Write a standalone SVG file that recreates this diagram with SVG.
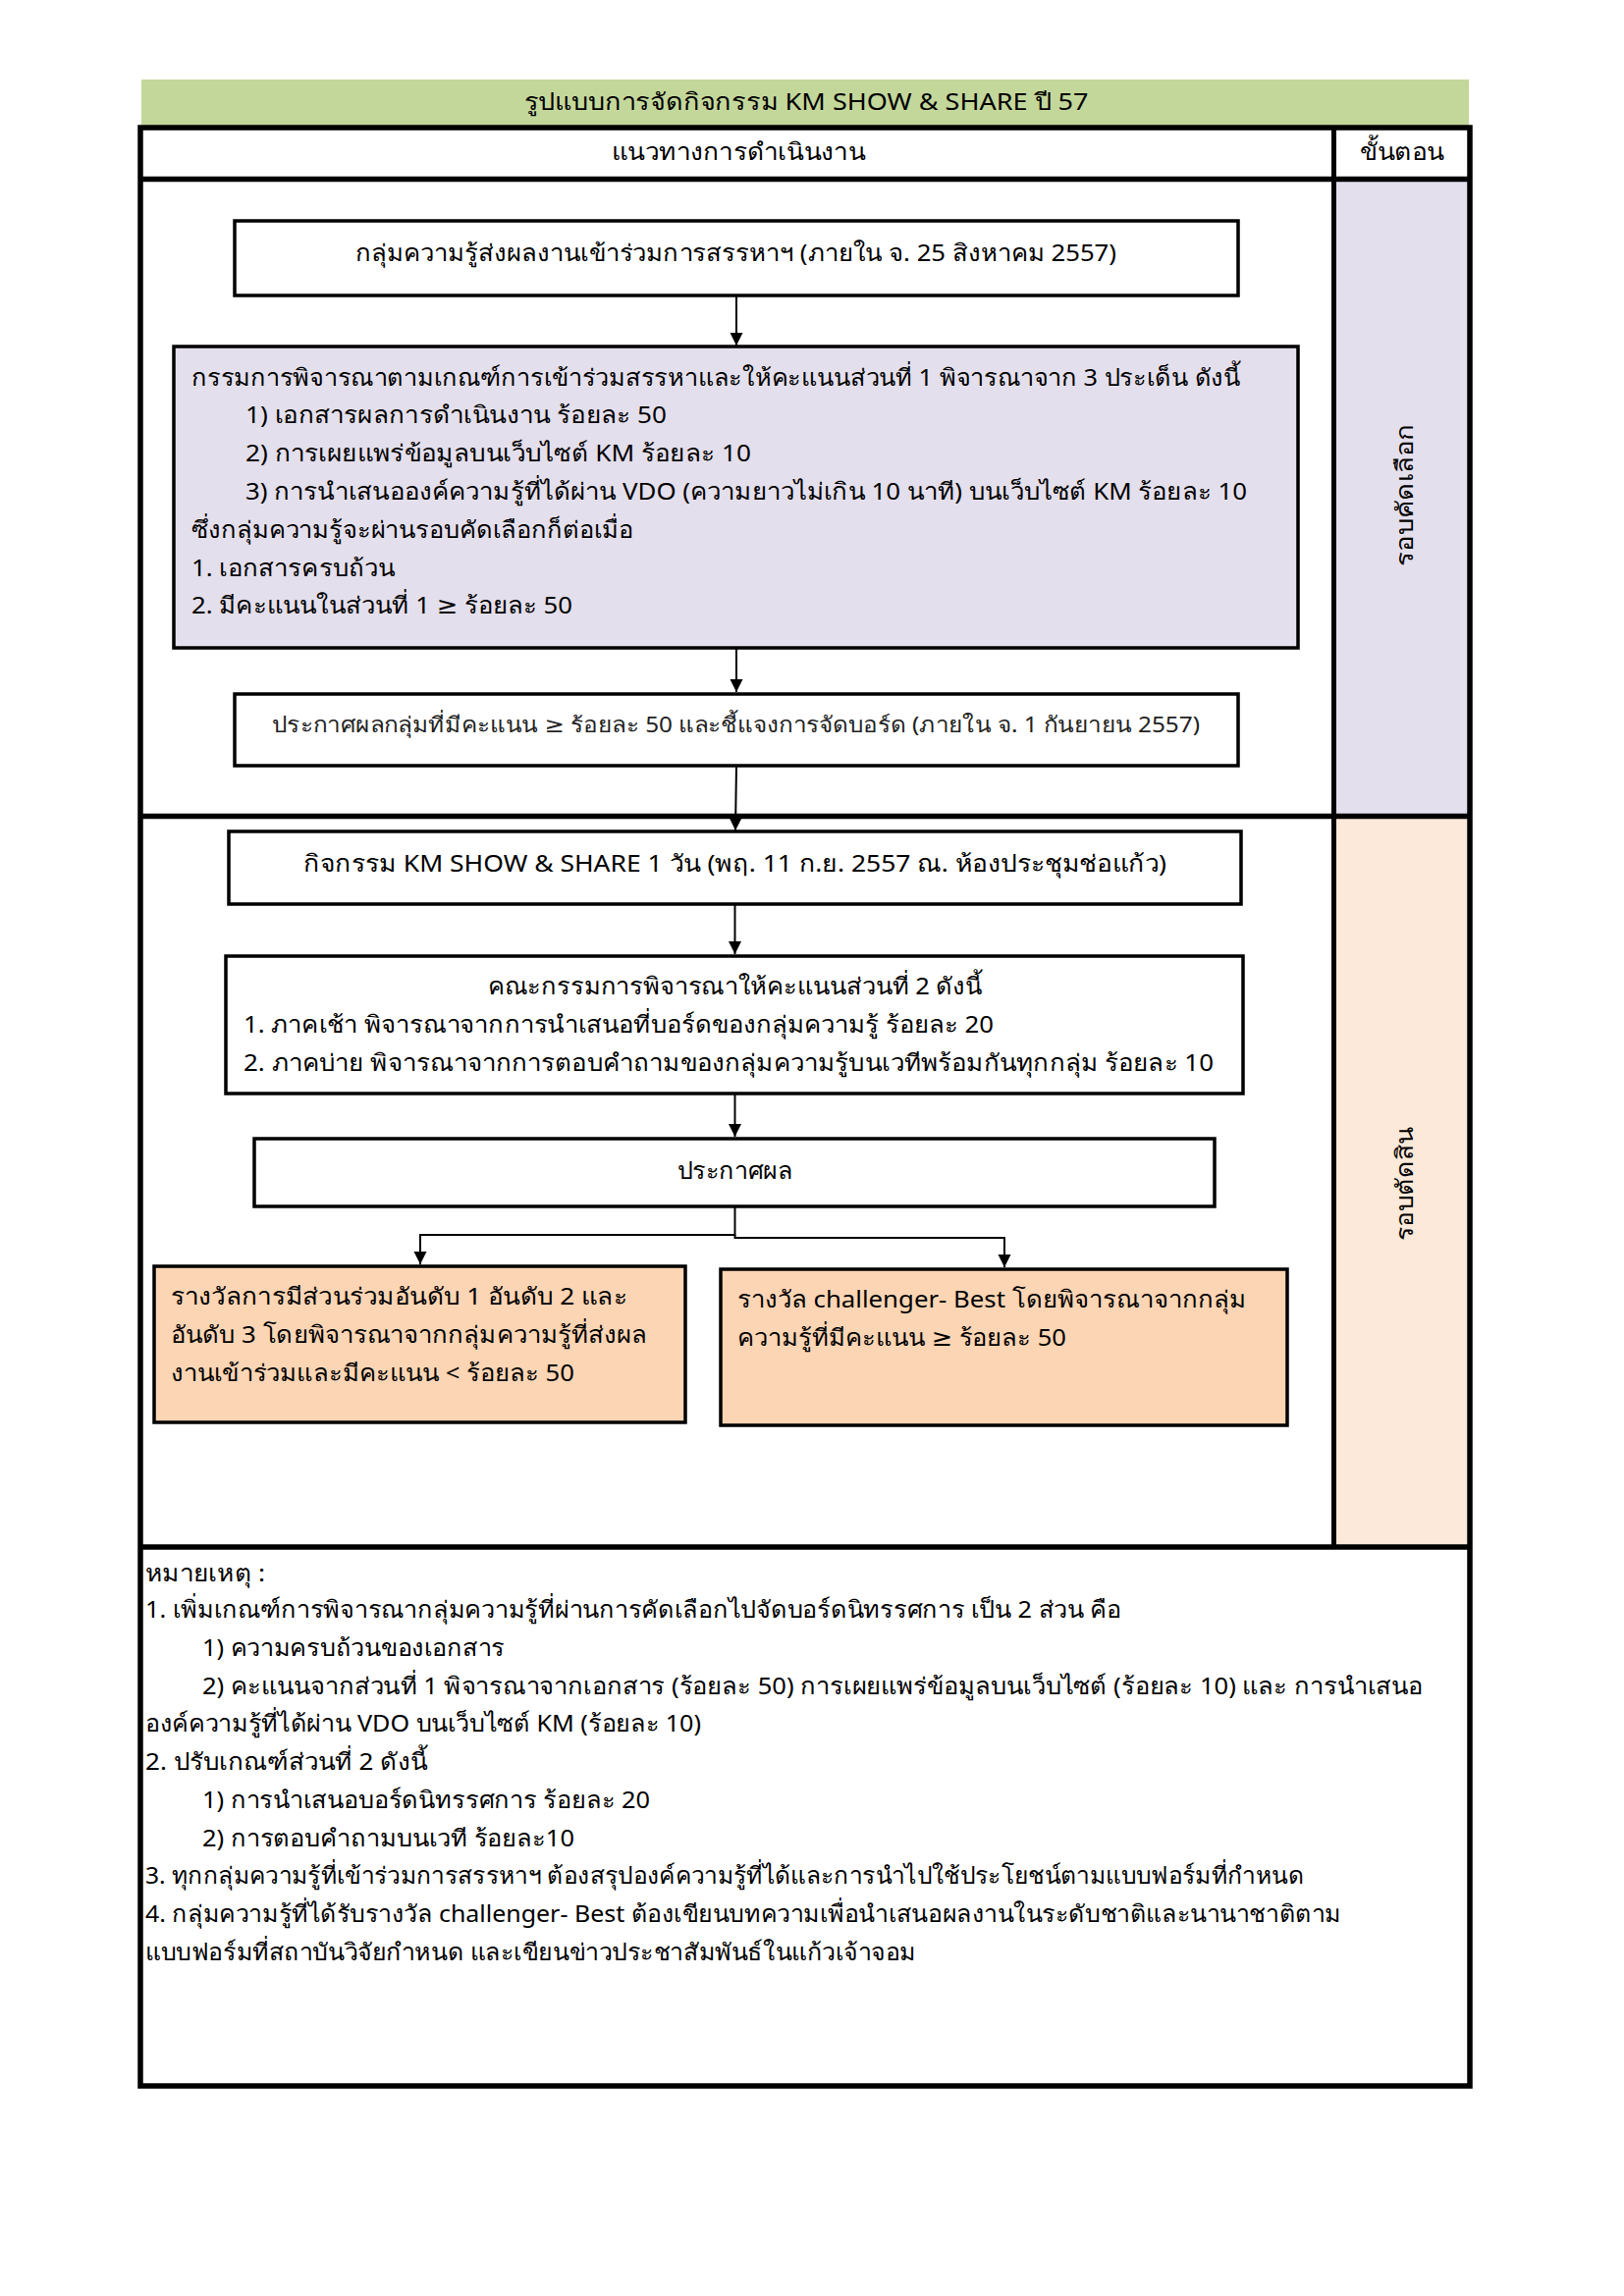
<svg xmlns="http://www.w3.org/2000/svg" width="1654" height="2339" viewBox="0 0 1654 2339">
<style>
text{font-family:"Noto Sans","DejaVu Sans",sans-serif;font-size:24px;fill:#000}
.c{text-anchor:middle}
.thin{font-size:22px;fill:#222}
.box{stroke:#000;stroke-width:3.5}
.grid{stroke:#000;stroke-width:5.5;fill:none}
.conn{stroke:#000;stroke-width:2;fill:none}
</style>
<defs>
<marker id="ah" markerUnits="userSpaceOnUse" markerWidth="13" markerHeight="16" viewBox="0 0 10 10" refX="10" refY="5" orient="auto">
<path d="M0,0 L10,5 L0,10 Z" fill="#000"/>
</marker>
</defs>
<rect width="1654" height="2339" fill="#fff"/>
<g id="title">
<rect x="144" y="81" width="1352" height="48" fill="#C4D79B"/>
<text class="c" x="821" y="112" textLength="575" lengthAdjust="spacingAndGlyphs">รูปแบบการจัดกิจกรรม KM SHOW &amp; SHARE ปี 57</text>
</g>
<g id="table">
<rect x="1361" y="185" width="134" height="644" fill="#E4DFEC"/>
<rect x="1361" y="834" width="134" height="740" fill="#FDE9D9"/>
<rect class="grid" x="143" y="130" width="1354" height="1995"/>
<line class="grid" x1="143" y1="182.5" x2="1497" y2="182.5"/>
<line class="grid" x1="143" y1="831.5" x2="1497" y2="831.5"/>
<line class="grid" x1="143" y1="1576" x2="1497" y2="1576"/>
<line x1="1358.5" y1="130" x2="1358.5" y2="1576" stroke="#000" stroke-width="5"/>
<text class="c" x="752" y="163" textLength="258" lengthAdjust="spacingAndGlyphs">แนวทางการดำเนินงาน</text>
<text class="c" x="1428" y="163" textLength="86" lengthAdjust="spacingAndGlyphs">ขั้นตอน</text>
<text class="c" transform="translate(1439,504) rotate(-90)" font-size="22" textLength="145" lengthAdjust="spacingAndGlyphs">รอบคัดเลือก</text>
<text class="c" transform="translate(1439,1206) rotate(-90)" font-size="22" textLength="116" lengthAdjust="spacingAndGlyphs">รอบตัดสิน</text>
</g>
<g id="connectors">
<line class="conn" x1="750" y1="301" x2="750" y2="352" marker-end="url(#ah)"/>
<line class="conn" x1="750" y1="660" x2="750" y2="705" marker-end="url(#ah)"/>
<line class="conn" x1="750" y1="780" x2="749" y2="846" marker-end="url(#ah)"/>
<line class="conn" x1="748.5" y1="921" x2="748.5" y2="972" marker-end="url(#ah)"/>
<line class="conn" x1="748.5" y1="1114" x2="748.5" y2="1158" marker-end="url(#ah)"/>
<path class="conn" d="M748.5,1229 V1258 H428 V1288" marker-end="url(#ah)"/>
<path class="conn" d="M748.5,1258 V1261 H1023 V1291" marker-end="url(#ah)"/>
</g>
<g id="box1">
<rect class="box" x="239" y="225" width="1022" height="76" fill="#fff"/>
<text x="362" y="266" textLength="775" lengthAdjust="spacingAndGlyphs">กลุ่มความรู้ส่งผลงานเข้าร่วมการสรรหาฯ (ภายใน จ. 25 สิงหาคม 2557)</text>
</g>
<g id="box2">
<rect class="box" x="177" y="353" width="1145" height="307" fill="#E4DFEC"/>
<text x="195" y="393" textLength="1068" lengthAdjust="spacingAndGlyphs">กรรมการพิจารณาตามเกณฑ์การเข้าร่วมสรรหาและให้คะแนนส่วนที่ 1 พิจารณาจาก 3 ประเด็น ดังนี้</text>
<text x="250" y="431" textLength="429" lengthAdjust="spacingAndGlyphs">1) เอกสารผลการดำเนินงาน ร้อยละ 50</text>
<text x="250" y="470" textLength="515" lengthAdjust="spacingAndGlyphs">2) การเผยแพร่ข้อมูลบนเว็บไซต์ KM ร้อยละ 10</text>
<text x="250" y="509" textLength="1020" lengthAdjust="spacingAndGlyphs">3) การนำเสนอองค์ความรู้ที่ได้ผ่าน VDO (ความยาวไม่เกิน 10 นาที) บนเว็บไซต์ KM ร้อยละ 10</text>
<text x="195" y="548" textLength="450" lengthAdjust="spacingAndGlyphs">ซึ่งกลุ่มความรู้จะผ่านรอบคัดเลือกก็ต่อเมื่อ</text>
<text x="195" y="587" textLength="207" lengthAdjust="spacingAndGlyphs">1. เอกสารครบถ้วน</text>
<text x="195" y="625" textLength="388" lengthAdjust="spacingAndGlyphs">2. มีคะแนนในส่วนที่ 1 ≥ ร้อยละ 50</text>
</g>
<g id="box3">
<rect class="box" x="239" y="707" width="1022" height="73" fill="#fff"/>
<text class="thin" x="277" y="746" textLength="945" lengthAdjust="spacingAndGlyphs">ประกาศผลกลุ่มที่มีคะแนน ≥ ร้อยละ 50 และชี้แจงการจัดบอร์ด (ภายใน จ. 1 กันยายน 2557)</text>
</g>
<g id="box4">
<rect class="box" x="233" y="847" width="1031" height="74" fill="#fff"/>
<text x="309" y="888" textLength="879" lengthAdjust="spacingAndGlyphs">กิจกรรม KM SHOW &amp; SHARE 1 วัน (พฤ. 11 ก.ย. 2557 ณ. ห้องประชุมช่อแก้ว)</text>
</g>
<g id="box5">
<rect class="box" x="230" y="974" width="1036" height="140" fill="#fff"/>
<text x="497" y="1013" textLength="503" lengthAdjust="spacingAndGlyphs">คณะกรรมการพิจารณาให้คะแนนส่วนที่ 2 ดังนี้</text>
<text x="248" y="1052" textLength="764" lengthAdjust="spacingAndGlyphs">1. ภาคเช้า พิจารณาจากการนำเสนอที่บอร์ดของกลุ่มความรู้ ร้อยละ 20</text>
<text x="248" y="1091" textLength="988" lengthAdjust="spacingAndGlyphs">2. ภาคบ่าย พิจารณาจากการตอบคำถามของกลุ่มความรู้บนเวทีพร้อมกันทุกกลุ่ม ร้อยละ 10</text>
</g>
<g id="box6">
<rect class="box" x="259" y="1160" width="978" height="69" fill="#fff"/>
<text class="c" x="748.5" y="1201" textLength="118" lengthAdjust="spacingAndGlyphs">ประกาศผล</text>
</g>
<g id="box7">
<rect class="box" x="157" y="1290" width="541" height="159" fill="#FCD5B4"/>
<text x="174" y="1329" textLength="465" lengthAdjust="spacingAndGlyphs">รางวัลการมีส่วนร่วมอันดับ 1 อันดับ 2 และ</text>
<text x="174" y="1368" textLength="485" lengthAdjust="spacingAndGlyphs">อันดับ 3 โดยพิจารณาจากกลุ่มความรู้ที่ส่งผล</text>
<text x="174" y="1407" textLength="411" lengthAdjust="spacingAndGlyphs">งานเข้าร่วมและมีคะแนน &lt; ร้อยละ 50</text>
</g>
<g id="box8">
<rect class="box" x="734" y="1293" width="577" height="159" fill="#FCD5B4"/>
<text x="751" y="1332" textLength="518" lengthAdjust="spacingAndGlyphs">รางวัล challenger- Best โดยพิจารณาจากกลุ่ม</text>
<text x="751" y="1371" textLength="335" lengthAdjust="spacingAndGlyphs">ความรู้ที่มีคะแนน ≥ ร้อยละ 50</text>
</g>
<g id="notes">
<text x="148" y="1611" textLength="122" lengthAdjust="spacingAndGlyphs">หมายเหตุ :</text>
<text x="148" y="1648" textLength="994" lengthAdjust="spacingAndGlyphs">1. เพิ่มเกณฑ์การพิจารณากลุ่มความรู้ที่ผ่านการคัดเลือกไปจัดบอร์ดนิทรรศการ เป็น 2 ส่วน คือ</text>
<text x="206" y="1687" textLength="308" lengthAdjust="spacingAndGlyphs">1) ความครบถ้วนของเอกสาร</text>
<text x="206" y="1726" textLength="1243" lengthAdjust="spacingAndGlyphs">2) คะแนนจากส่วนที่ 1 พิจารณาจากเอกสาร (ร้อยละ 50) การเผยแพร่ข้อมูลบนเว็บไซต์ (ร้อยละ 10) และ การนำเสนอ</text>
<text x="148" y="1764" textLength="566" lengthAdjust="spacingAndGlyphs">องค์ความรู้ที่ได้ผ่าน VDO บนเว็บไซต์ KM (ร้อยละ 10)</text>
<text x="148" y="1803" textLength="287" lengthAdjust="spacingAndGlyphs">2. ปรับเกณฑ์ส่วนที่ 2 ดังนี้</text>
<text x="206" y="1842" textLength="456" lengthAdjust="spacingAndGlyphs">1) การนำเสนอบอร์ดนิทรรศการ ร้อยละ 20</text>
<text x="206" y="1881" textLength="379" lengthAdjust="spacingAndGlyphs">2) การตอบคำถามบนเวที ร้อยละ10</text>
<text x="148" y="1919" textLength="1180" lengthAdjust="spacingAndGlyphs">3. ทุกกลุ่มความรู้ที่เข้าร่วมการสรรหาฯ ต้องสรุปองค์ความรู้ที่ได้และการนำไปใช้ประโยชน์ตามแบบฟอร์มที่กำหนด</text>
<text x="148" y="1958" textLength="1218" lengthAdjust="spacingAndGlyphs">4. กลุ่มความรู้ที่ได้รับรางวัล challenger- Best ต้องเขียนบทความเพื่อนำเสนอผลงานในระดับชาติและนานาชาติตาม</text>
<text x="148" y="1997" textLength="785" lengthAdjust="spacingAndGlyphs">แบบฟอร์มที่สถาบันวิจัยกำหนด และเขียนข่าวประชาสัมพันธ์ในแก้วเจ้าจอม</text>
</g>
</svg>
